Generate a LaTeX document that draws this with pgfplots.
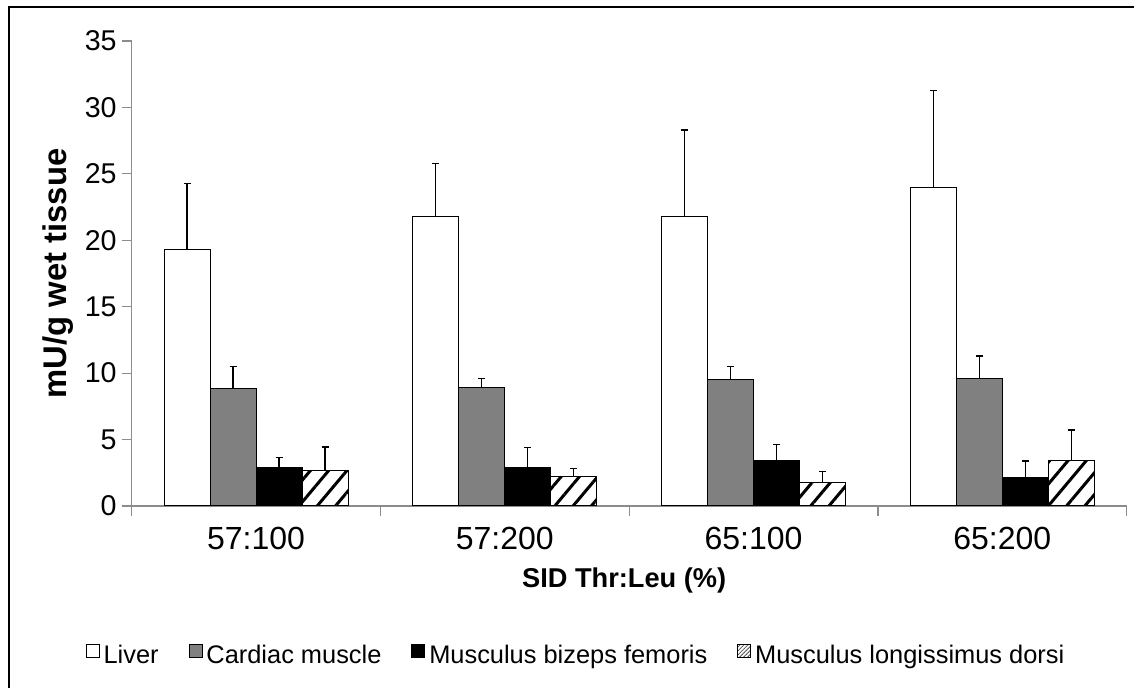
\documentclass[border=0pt]{standalone}
\usepackage{fontspec}
\setmainfont{Liberation Sans}
\usepackage{pgfplots}
\usepackage{pgfplotstable}
\pgfplotsset{compat=1.18}
\usetikzlibrary{patterns.meta}
\definecolor{axgray}{RGB}{140,140,140}
\definecolor{cardgray}{RGB}{128,128,128}

\pgfplotstableread{
x liver liverE card cardE biz bizE lon lonE
0 19.3 5.0 8.86 1.62 2.88 0.76 2.68 1.76
1 21.8 4.0 8.90 0.70 2.90 1.50 2.20 0.60
2 21.8 6.5 9.50 1.00 3.40 1.20 1.80 0.80
3 24.0 7.3 9.58 1.71 2.16 1.23 3.39 2.33
}\datatable

\pgfplotsset{myerr/.style={
  error bars/y dir=plus, error bars/y explicit,
  error bars/error bar style={black, line width=0.6pt},
  error bars/error mark options={rotate=90, mark size=1.75pt, black, line width=0.6pt}}}

\begin{document}
\begin{tikzpicture}
\useasboundingbox (-65.85pt,-91pt) rectangle (501.15pt,253pt);
\draw[line width=1pt] (-61.1pt,-91pt) -- (-61.1pt,249.25pt) -- (501.15pt,249.25pt);
\begin{axis}[
  at={(0pt,0pt)}, anchor=south west,
  scale only axis, width=497.5pt, height=232.5pt,
  xmin=-0.5, xmax=3.5, ymin=0, ymax=35,
  ybar=0pt, bar width=23pt,
  axis x line=bottom, axis y line=left,
  axis line style={axgray, line width=0.6pt, -},
  tick style={axgray, line width=0.6pt},
  tick align=outside,
  major tick length=5pt,
  ytick={0,5,...,35},
  xtick={-0.5,0.5,1.5,2.5,3.5}, xticklabels={},
  extra x ticks={0,1,2,3},
  extra x tick labels={57:100,57:200,65:100,65:200},
  extra x tick style={major tick length=0pt},
  x tick label style={font=\fontsize{16}{19}\selectfont, yshift=-7.25pt},
  y tick label style={font=\fontsize{14.3}{17}\selectfont, xshift=1pt},
  /pgf/number format/assume math mode=true,
  xlabel={\textbf{SID Thr:Leu (\%)}},
  xlabel style={at={(axis description cs:0.495,0)}, anchor=base, yshift=-41pt, font=\fontsize{13.6}{16}\selectfont},
  ylabel={\textbf{mU/g wet tissue}},
  ylabel style={at={(axis description cs:-0.066,0.5)}, rotate=0, anchor=base, font=\fontsize{16.4}{19}\selectfont},
  legend style={at={(axis description cs:0.4476,-0.3226)}, anchor=center, draw=none, fill=none,
    legend columns=-1, font=\fontsize{12.7}{15}\selectfont,
    /tikz/every even column/.append style={column sep=13pt}},
  legend image code/.code={\draw[#1, draw=black, line width=0.4pt] (0pt,-0.5pt) rectangle (6.5pt,6pt);},
]
\addplot[fill=white, draw=black, line width=0.5pt, myerr] table[x=x, y=liver, y error=liverE]{\datatable};
\addplot[fill=cardgray, draw=black, line width=0.5pt, myerr] table[x=x, y=card, y error=cardE]{\datatable};
\addplot[fill=black, draw=black, line width=0.5pt, myerr] table[x=x, y=biz, y error=bizE]{\datatable};
\addplot[draw=black, line width=0.5pt, pattern={Lines[angle=50, distance=7pt, line width=1.5pt]}, pattern color=black, myerr,
  legend image code/.code={\draw[draw=black, line width=0.4pt, pattern={Lines[angle=45, distance=1.4pt, line width=0.4pt]}, pattern color=black!70] (0pt,-0.5pt) rectangle (6.5pt,6pt);}]
  table[x=x, y=lon, y error=lonE]{\datatable};
\legend{Liver, Cardiac muscle, Musculus bizeps femoris, Musculus longissimus dorsi}
\end{axis}
\end{tikzpicture}
\end{document}
